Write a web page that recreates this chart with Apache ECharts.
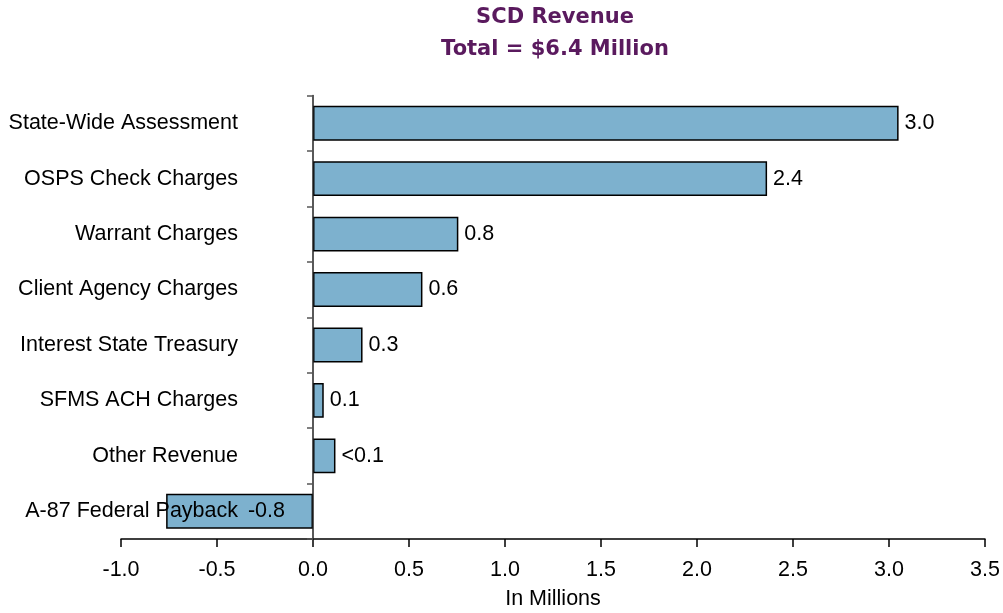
<!DOCTYPE html>
<html>
<head>
<meta charset="utf-8">
<script src="https://cdn.jsdelivr.net/npm/echarts@6/dist/echarts.min.js"></script>
<style>html,body{margin:0;padding:0;background:#fff}#c{width:1003px;height:613px}</style>
</head>
<body>
<div id="c"></div>
<script>
const categories = ["State-Wide Assessment","OSPS Check Charges","Warrant Charges","Client Agency Charges","Interest State Treasury","SFMS ACH Charges","Other Revenue","A-87 Federal Payback"];
const values = [3.05, 2.365, 0.757, 0.57, 0.258, 0.056, 0.117, -0.765];
const valueLabels = ["3.0","2.4","0.8","0.6","0.3","0.1","<0.1","-0.8"];
const xTicks = [-1.0, -0.5, 0.0, 0.5, 1.0, 1.5, 2.0, 2.5, 3.0, 3.5];

const chart = echarts.init(document.getElementById('c'));
const font = '"Liberation Sans", Arial, sans-serif';
chart.setOption({
  animation: false,
  title: {
    text: 'SCD Revenue\nTotal = $6.4 Million',
    left: 550, top: -3, textAlign: 'center',
    textStyle: { fontFamily: '"DejaVu Sans", Verdana, sans-serif', fontWeight: 'bold', fontSize: 21, color: '#5a1a5e', lineHeight: 32 }
  },
  grid: { left: 121, right: 18, top: 95.5, bottom: 74, containLabel: false, outerBoundsMode: 'none' },
  xAxis: {
    type: 'value', min: -1, max: 3.5, interval: 0.5, position: 'bottom',
    splitLine: { show: false },
    axisLine: { show: true, onZero: false, lineStyle: { color: '#000', width: 1.5 } },
    axisTick: { show: true, length: 8, lineStyle: { color: '#000', width: 1.5 } },
    axisLabel: { fontFamily: font, fontSize: 21.5, color: '#000', margin: 20,
      formatter: v => { const t = xTicks.find(x => Math.abs(x - v) < 1e-9); return (t !== undefined ? t : v).toFixed(1); } },
    name: 'In Millions', nameLocation: 'middle', nameGap: 49,
    nameTextStyle: { fontFamily: font, fontSize: 21.5, color: '#000' }
  },
  yAxis: {
    type: 'category', data: categories, inverse: true, z: 5,
    axisLine: { show: true, onZero: true, lineStyle: { color: '#222', width: 1.5 } },
    axisTick: { show: true, length: 6, alignWithLabel: false, lineStyle: { color: '#555', width: 1.5 } },
    axisLabel: { fontFamily: font, fontSize: 21.5, color: '#000', margin: -117 }
  },
  series: [{
    type: 'bar',
    barWidth: '63%',
    data: values.map((v, i) => {
      const d = { value: v };
      if (v < 0) d.label = { position: 'insideRight', distance: 28 };
      return d;
    }),
    itemStyle: { color: '#7db1ce', borderColor: '#000', borderWidth: 1.5 },
    label: {
      show: true, position: 'right', distance: 6,
      fontFamily: font, fontSize: 21.5, color: '#000',
      formatter: p => valueLabels[p.dataIndex]
    }
  }]
});
</script>
</body>
</html>
